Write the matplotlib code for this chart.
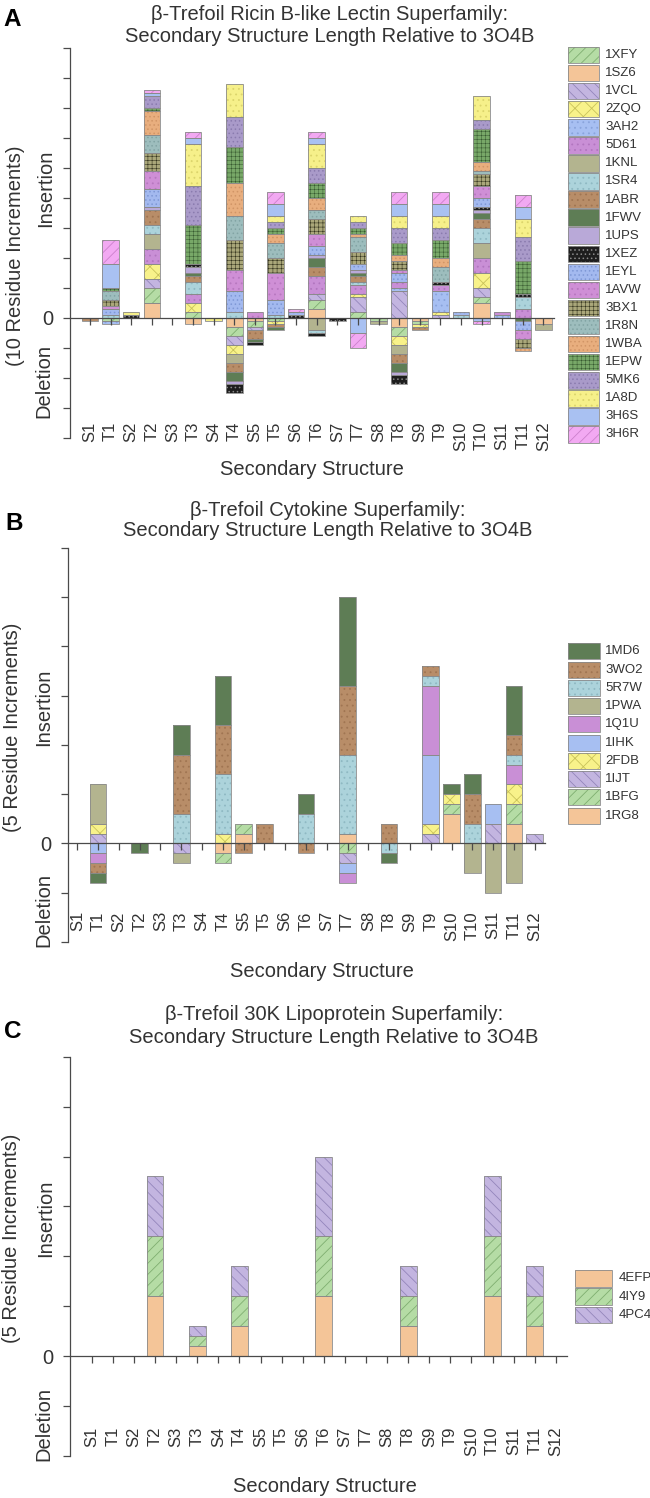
import numpy as np
import matplotlib
matplotlib.use("Agg")
import matplotlib.pyplot as plt
from matplotlib.patches import Rectangle

plt.rcParams['font.family'] = ['Liberation Sans', 'DejaVu Sans']
plt.rcParams['hatch.linewidth'] = 0.6

W, H = 650, 1498
TXT = '#333333'
AX = '#4a4a4a'

cats = ['S1', 'T1', 'S2', 'T2', 'S3', 'T3', 'S4', 'T4', 'S5', 'T5', 'S6', 'T6',
        'S7', 'T7', 'S8', 'T8', 'S9', 'T9', 'S10', 'T10', 'S11', 'T11', 'S12']

# ---- panel A : ricin B-like lectins (residues, + insertion / - deletion)
a_1XFY = [0, -1, 0, 5, 0, 2, 0, -3, -2, -1, 0, 3, 0, 2, -1, -3, -1, 0, 0, 2, 0, 0, 0]
a_1SZ6 = [0, 0, 0, 5, 0, -2, 0, -3, -1, 0, 0, 3, 0, 0, 0, -3, -1, 0, 0, 5, 0, 0, -2]
a_1VCL = [0, 0, 0, 3, 0, 0, 0, -3, -1, 0, 0, 2, 0, 5, 0, 9, 0, 1, 0, 3, 0, 0, 0]
a_2ZQO = [0, 0, 0, 5, 0, 3, 0, -3, 0, -1, 0, 0, 0, 1, 0, -3, -1, 1, 0, 5, 0, 0, 0]
a_3AH2 = [0, -1, 0, 0, 0, 0, 0, 0, 0, 0, 0, 0, 0, 0, 0, 1, 0, 7, 0, -1, 1, 0, 0]
a_5D61 = [0, 0, 0, 5, 0, 3, 0, 0, 0, 0, 0, 6, 0, 3, 0, 2, 0, 2, 0, 5, 1, 3, 0]
a_1KNL = [0, 0, 0, 5, 0, 0, 0, -3, 0, 0, 0, -4, 0, 0, -1, -3, 0, 0, 0, 5, 0, 0, -2]
a_1SR4 = [0, 1, 0, 3, 0, 4, 0, 2, 0, 1, 0, -1, 0, 1, 0, 0, 0, 0, 1, 5, 0, 4, 0]
a_1ABR = [-1, 0, 0, 5, 0, 2, 0, -3, -3, -1, 0, 3, 0, 2, 0, -3, -1, 0, 0, 3, 0, 0, 0]
a_1FWV = [0, 0, 0, 0, 0, 1, 0, -3, -1, -1, 0, 3, 0, 1, 0, -3, 0, 0, 0, 2, 0, -1, 0]
a_1UPS = [0, 0, 0, 1, 0, 2, 0, -1, 0, 0, 0, 1, 0, 1, 0, -1, 0, 0, 0, 1, 0, 0, 0]
a_1XEZ = [0, 0, 1, 0, 0, 1, 0, -3, -1, 0, 1, -1, -1, 0, 0, -3, 0, 1, 0, 1, 0, 1, 0]
a_1EYL = [0, 2, 0, 6, 0, 0, 0, 7, 0, 5, 1, 3, 0, 2, 0, 3, 0, 0, 1, 3, 0, -3, 0]
a_1AVW = [0, 1, 0, 6, 0, 0, 0, 7, 2, 9, 0, 4, 0, 0, 0, 1, 0, 0, 0, 4, 0, -3, 0]
a_3BX1 = [0, 2, 0, 6, 0, 0, 0, 10, 0, 5, 0, 5, 0, 4, 0, 3, 0, 0, 0, 4, 0, -3, 0]
a_1R8N = [0, 3, 0, 6, 0, 0, 0, 8, 0, 5, 0, 3, 0, 5, 0, 0, 0, 5, 0, 1, 0, 0, 0]
a_1WBA = [0, 0, 0, 8, 0, 0, 0, 11, 0, 3, 0, 4, 0, 1, 0, 2, 0, 3, 0, 3, 0, -1, 0]
a_1EPW = [0, 1, 0, 1, 0, 13, 0, 12, 0, 2, 0, 5, 0, 2, 0, 4, 0, 6, 0, 11, 0, 11, 0]
a_5MK6 = [0, 0, 0, 4, 0, 13, 0, 10, 0, 2, 0, 5, 0, 2, 0, 5, 0, 4, 0, 3, 0, 8, 0]
a_1A8D = [0, 0, 1, 0, 0, 14, -1, 11, 0, 2, 0, 8, 0, 2, 0, 4, 0, 4, 0, 8, 0, 6, 0]
a_3H6S = [0, 8, 0, 1, 0, 2, 0, 0, 0, 4, 0, 2, 0, -5, 0, 4, 0, 4, 0, 0, 0, 4, 0]
a_3H6R = [0, 8, 0, 1, 0, 2, 0, 0, 0, 4, 1, 2, 0, -5, 0, 4, 0, 4, 0, -1, 0, 4, 0]

# ---- panel B : cytokines
b_1MD6 = [0, -1, 0, -1, 0, 3, 0, 5, 0, 0, 0, 2, 0, 9, 0, -1, 0, 0, 1, 2, 0, 5, 0]
b_3WO2 = [0, -1, 0, 0, 0, 6, 0, 5, -1, 2, 0, -1, 0, 7, 0, 2, 0, 1, 0, 3, 0, 2, 0]
b_5R7W = [0, 0, 0, 0, 0, 3, 0, 6, 0, 0, 0, 3, 0, 8, 0, -1, 0, 1, 0, 2, 0, 1, 0]
b_1PWA = [0, 4, 0, 0, 0, -1, 0, 0, 0, 0, 0, 0, 0, 0, 0, 0, 0, 0, 0, -3, -5, -4, 0]
b_1Q1U = [0, -1, 0, 0, 0, 0, 0, 0, 0, 0, 0, 0, 0, -1, 0, 0, 0, 7, 0, 0, 0, 2, 0]
b_1IHK = [0, -1, 0, 0, 0, 0, 0, 0, 0, 0, 0, 0, 0, -1, 0, 0, 0, 7, 0, 0, 2, 0, 0]
b_2FDB = [0, 1, 0, 0, 0, 0, 0, 1, 0, 0, 0, 0, 0, 0, 0, 0, 0, 1, 1, 0, 0, 2, 0]
b_1IJT = [0, 1, 0, 0, 0, -1, 0, 0, 0, 0, 0, 0, 0, -1, 0, 0, 0, 1, 0, 0, 2, 0, 1]
b_1BFG = [0, 0, 0, 0, 0, 0, 0, -1, 1, 0, 0, 0, 0, -1, 0, 0, 0, 0, 1, 0, 0, 2, 0]
b_1RG8 = [0, 0, 0, 0, 0, 0, 0, -1, 1, 0, 0, 0, 0, 1, 0, 0, 0, 0, 3, 0, 0, 2, 0]

# ---- panel C : 30K lipoproteins
c_4EFP = [0, 0, 0, 6, 0, 1, 0, 3, 0, 0, 0, 6, 0, 0, 0, 3, 0, 0, 0, 6, 0, 3, 0]
c_4IY9 = [0, 0, 0, 6, 0, 1, 0, 3, 0, 0, 0, 6, 0, 0, 0, 3, 0, 0, 0, 6, 0, 3, 0]
c_4PC4 = [0, 0, 0, 6, 0, 1, 0, 3, 0, 0, 0, 8, 0, 0, 0, 3, 0, 0, 0, 6, 0, 3, 0]

# face colour, hatch colour, hatch, hatch linewidth
sty = {
    '1XFY': ('#b5dca5', '#7fae70', '///', 0.6),
    '1SZ6': ('#f4c598', '#e9b482', '', 0.6),
    '1VCL': ('#c3b5e0', '#9486bb', '\\\\\\', 0.6),
    '2ZQO': ('#f8f28a', '#c9c25a', 'xx', 0.6),
    '3AH2': ('#a7bff2', '#8aa4dc', '...', 0.6),
    '5D61': ('#c98fd6', '#b276c0', '...', 0.6),
    '1KNL': ('#b3b48f', '#9d9e78', '', 0.6),
    '1SR4': ('#acd3db', '#8fb9c3', '...', 0.6),
    '1ABR': ('#b88d68', '#a07552', '...', 0.6),
    '1FWV': ('#5e7d55', '#4d6a45', '', 0.6),
    '1UPS': ('#b9a9d8', '#a493c6', '', 0.6),
    '1XEZ': ('#1e1e1e', '#8a8a8a', '....', 0.6),
    '1EYL': ('#a3b9ef', '#7f98d6', '....', 0.6),
    '1AVW': ('#cf8fd6', '#b878c0', '...', 0.6),
    '3BX1': ('#aaa77a', '#34341e', '++++', 0.4),
    '1R8N': ('#9dbdbd', '#82a4a4', '....', 0.6),
    '1WBA': ('#e8ae7e', '#d19566', '....', 0.6),
    '1EPW': ('#78a868', '#36582f', '++++', 0.35),
    '5MK6': ('#a99ac9', '#8a7bae', '....', 0.6),
    '1A8D': ('#f6f08a', '#dcd56c', '...', 0.6),
    '3H6S': ('#a9c1f2', '#95addf', '', 0.6),
    '3H6R': ('#f2a9f2', '#cc80cc', '///', 0.6),
    '1MD6': ('#5e7d55', '#4d6a45', '', 0.6),
    '3WO2': ('#b88d68', '#a07552', '...', 0.6),
    '5R7W': ('#acd3db', '#8fb9c3', '...', 0.6),
    '1PWA': ('#b3b48f', '#9d9e78', '', 0.6),
    '1Q1U': ('#c98fd6', '#b276c0', '', 0.6),
    '1IHK': ('#a7bff2', '#8aa4dc', '', 0.6),
    '2FDB': ('#f8f28a', '#c9c25a', 'xx', 0.6),
    '1IJT': ('#c3b5e0', '#9486bb', '\\\\\\', 0.6),
    '1BFG': ('#b5dca5', '#7fae70', '///', 0.6),
    '1RG8': ('#f4c598', '#e9b482', '', 0.6),
    '4EFP': ('#f4c598', '#e9b482', '', 0.6),
    '4IY9': ('#b5dca5', '#7fae70', '///', 0.6),
    '4PC4': ('#c3b5e0', '#9486bb', '\\\\\\', 0.6),
}

A_vals = {'1XFY': a_1XFY, '1SZ6': a_1SZ6, '1VCL': a_1VCL, '2ZQO': a_2ZQO, '3AH2': a_3AH2,
          '5D61': a_5D61, '1KNL': a_1KNL, '1SR4': a_1SR4, '1ABR': a_1ABR, '1FWV': a_1FWV,
          '1UPS': a_1UPS, '1XEZ': a_1XEZ, '1EYL': a_1EYL, '1AVW': a_1AVW, '3BX1': a_3BX1,
          '1R8N': a_1R8N, '1WBA': a_1WBA, '1EPW': a_1EPW, '5MK6': a_5MK6, '1A8D': a_1A8D,
          '3H6S': a_3H6S, '3H6R': a_3H6R}
A_legend = list(A_vals.keys())
A_stack = ['1SZ6', '1XFY'] + A_legend[2:]

B_vals = {'1MD6': b_1MD6, '3WO2': b_3WO2, '5R7W': b_5R7W, '1PWA': b_1PWA, '1Q1U': b_1Q1U,
          '1IHK': b_1IHK, '2FDB': b_2FDB, '1IJT': b_1IJT, '1BFG': b_1BFG, '1RG8': b_1RG8}
B_legend = list(B_vals.keys())
B_stack = B_legend[::-1]

C_vals = {'4EFP': c_4EFP, '4IY9': c_4IY9, '4PC4': c_4PC4}
C_legend = list(C_vals.keys())
C_stack = C_legend


def fx(px):
    return px / W


def fy(py):
    return 1 - py / H


fig = plt.figure(figsize=(W / 100, H / 100), dpi=100)


def make_axes(left, right, top, bottom, x0, dx, ylo, yhi, step):
    ax = fig.add_axes([fx(left), fy(bottom), (right - left) / W, (bottom - top) / H])
    ax.set_xlim((left - x0) / dx, (right - x0) / dx)
    ax.set_ylim(ylo, yhi)
    for s in ['top', 'right']:
        ax.spines[s].set_visible(False)
    ax.spines['bottom'].set_position(('data', 0))
    for s in ['left', 'bottom']:
        ax.spines[s].set_color(AX)
        ax.spines[s].set_linewidth(0.9)
    ax.set_xticks(np.arange(len(cats)))
    ax.set_xticklabels([])
    yt = np.arange(ylo, yhi + 1, step)
    ax.set_yticks(yt)
    ax.set_yticklabels(['0' if v == 0 else '' for v in yt])
    ax.tick_params(direction='out', length=5, width=0.9, color=AX)
    ax.tick_params(axis='y', labelsize=14.5, labelcolor=TXT, pad=7)
    ax.patch.set_alpha(0)
    return ax


def stack(ax, order, vals):
    x = np.arange(len(cats))
    pos = np.zeros(len(cats))
    neg = np.zeros(len(cats))
    for name in order:
        v = np.array(vals[name], float)
        m = v != 0
        bot = np.where(v > 0, pos, neg)
        face, hcol, hatch, hlw = sty[name]
        with plt.rc_context({'hatch.linewidth': hlw}):
            ax.bar(x[m], v[m], 0.8, bottom=bot[m], color=face, edgecolor=hcol,
                   hatch=hatch, linewidth=0, zorder=1)
        ax.bar(x[m], v[m], 0.8, bottom=bot[m], fill=False, edgecolor='#8a8a8a',
               linewidth=0.6, zorder=1.1)
        pos += np.clip(v, 0, None)
        neg += np.clip(v, None, 0)


def xlabels(ax, ytop):
    for i, c in enumerate(cats):
        ax.text(i, ytop, c, rotation=90, ha='center', va='top', fontsize=12,
                color=TXT)


def legend(names, x0, x1, yc0, pitch, hb, tx):
    for i, n in enumerate(names):
        yc = yc0 + i * pitch
        face, hcol, hatch, hlw = sty[n]
        with plt.rc_context({'hatch.linewidth': hlw}):
            r = Rectangle((fx(x0), fy(yc + hb / 2)), (x1 - x0) / W, hb / H,
                          transform=fig.transFigure, facecolor=face, edgecolor=hcol,
                          hatch=hatch, linewidth=0)
        fig.add_artist(r)
        fig.add_artist(Rectangle((fx(x0), fy(yc + hb / 2)), (x1 - x0) / W, hb / H,
                                 transform=fig.transFigure, fill=False,
                                 edgecolor='#8a8a8a', linewidth=0.6))
        fig.text(fx(tx), fy(yc), n, ha='left', va='center', fontsize=9.5, color=TXT)


def panel_text(letter, lx, ly, title1, title2, tcx, t1y, t2y, xlx, xly,
               inc, ins, dele):
    fig.text(fx(lx), fy(ly), letter, fontsize=17.5, fontweight='bold',
             ha='left', va='baseline', color='black')
    fig.text(fx(tcx), fy(t1y), title1, fontsize=14.5, ha='center', va='baseline', color=TXT)
    fig.text(fx(tcx), fy(t2y), title2, fontsize=14.5, ha='center', va='baseline', color=TXT)
    fig.text(fx(xlx), fy(xly), 'Secondary Structure', fontsize=14.5, ha='center',
             va='baseline', color=TXT)
    fig.text(fx(inc[0]), fy(inc[1]), inc[2], fontsize=14.5, rotation=90,
             ha='center', va='center', color=TXT)
    fig.text(fx(ins[0]), fy(ins[1]), 'Insertion', fontsize=14.5, rotation=90,
             ha='center', va='center', color=TXT)
    fig.text(fx(dele[0]), fy(dele[1]), 'Deletion', fontsize=14.5, rotation=90,
             ha='center', va='center', color=TXT)


sub = 'Secondary Structure Length Relative to 3O4B'

# panel A
axA = make_axes(70, 554, 47.7, 437.7, 90, 20.61, -40, 90, 10)
stack(axA, A_stack, A_vals)
xlabels(axA, -34.7)
legend(A_legend, 567.7, 599, 55, 18.07, 16.5, 605)
panel_text('A', 3, 26.5, '\u03b2-Trefoil Ricin B-like Lectin Superfamily:', sub,
           330, 19.5, 41.5, 312, 475,
           (16, 256, '(10 Residue Increments)'), (46, 188), (44, 381))

# panel B
axB = make_axes(68.3, 545, 547.7, 942, 77.3, 20.79, -10, 30, 5)
stack(axB, B_stack, B_vals)
xlabels(axB, -6.87)
legend(B_legend, 568, 600, 651.3, 18.27, 16, 605)
panel_text('B', 5, 530, '\u03b2-Trefoil Cytokine Superfamily:', sub,
           328, 515.5, 536, 322, 977,
           (13, 727, '(5 Residue Increments)'), (44, 707), (43.5, 910))

# panel C
axC = make_axes(70, 566.5, 1056.7, 1456, 91.7, 21.1, -10, 30, 5)
stack(axC, C_stack, C_vals)
xlabels(axC, -7.07)
legend(C_legend, 575, 612, 1278.3, 18.3, 16.5, 619)
panel_text('C', 4, 1038.5, '\u03b2-Trefoil 30K Lipoprotein Superfamily:', sub,
           334, 1020.5, 1043, 325, 1491.5,
           (12, 1238, '(5 Residue Increments)'), (46, 1218), (44, 1424))

fig.savefig('out.png', dpi=100)
